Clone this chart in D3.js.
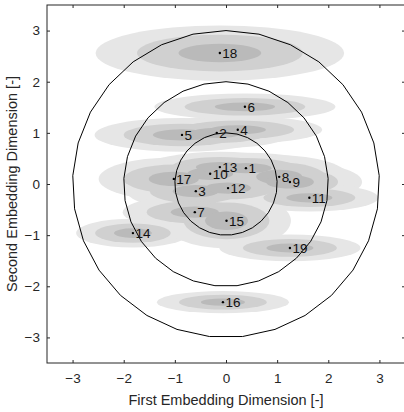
<!DOCTYPE html>
<html><head><meta charset="utf-8">
<script src="https://cdn.jsdelivr.net/npm/d3@7"></script>
<style>body{margin:0;background:#fff}svg{display:block}text{font-family:"Liberation Sans",Arial,sans-serif}</style>
</head><body>
<svg id="c" width="404" height="412"></svg>
<script>
const labels = ["1","2","3","4","5","6","7","8","9","10","11","12","13","14","15","16","17","18","19"];
const xs  = [0.39,-0.18,-0.59,0.23,-0.86,0.37,-0.61,1.04,1.25,-0.31,1.63,0.04,-0.12,-1.82,0.01,-0.06,-1.02,-0.12,1.25];
const ys  = [0.31,1.00,-0.14,1.06,0.96,1.51,-0.55,0.14,0.04,0.20,-0.27,-0.08,0.33,-0.96,-0.72,-2.31,0.10,2.56,-1.25];
const sx  = [0.50,0.50,0.45,0.55,0.57,0.59,0.47,0.45,0.47,0.45,0.45,0.45,0.47,0.37,0.42,0.43,0.49,0.81,0.46];
const sy  = [0.10,0.10,0.12,0.09,0.11,0.086,0.11,0.14,0.13,0.12,0.09,0.11,0.10,0.094,0.18,0.072,0.14,0.18,0.087];
const ticks = [-3,-2,-1,0,1,2,3];
const radii = [1,2,3];
const sigmaLevels = [3,2,1];
const shades = ["#e6e6e6","#d0d0d0","#bababa"];

const svg = d3.select("#c");
const x = d3.scaleLinear().domain([-3.5,3.5]).range([47,405]);
const y = d3.scaleLinear().domain([-3.5,3.5]).range([363,5]);
const pts = labels.map((l,i)=>({l, x:xs[i], y:ys[i], sx:sx[i], sy:sy[i]}));

sigmaLevels.forEach((k,li)=>{
  svg.append("g").selectAll("ellipse").data(pts).join("ellipse")
    .attr("cx",d=>x(d.x)).attr("cy",d=>y(d.y))
    .attr("rx",d=>x(k*d.sx)-x(0)).attr("ry",d=>y(0)-y(k*d.sy))
    .attr("fill",shades[li]);
});

const N = 29;
const line = d3.line().x(d=>x(d[0])).y(d=>y(d[1]));
radii.forEach(r=>{
  const ring = d3.range(N+1).map(j=>{const a=Math.PI/2+2*Math.PI*j/N; return [r*Math.cos(a), r*Math.sin(a)];});
  svg.append("path").attr("d",line(ring)).attr("fill","none").attr("stroke","#000").attr("stroke-width",1);
});

svg.append("g").selectAll("circle").data(pts).join("circle")
  .attr("cx",d=>x(d.x)).attr("cy",d=>y(d.y)).attr("r",1.2).attr("fill","#000");
svg.append("g").selectAll("text").data(pts).join("text")
  .attr("x",d=>x(d.x)+2.5).attr("y",d=>y(d.y)+5)
  .attr("font-size",13.5).attr("fill","#111").text(d=>d.l);

// axes
const ac = "#262626";
const gb = svg.append("g").attr("transform","translate(0,363)")
  .call(d3.axisBottom(x).tickValues(ticks).tickSize(-3).tickPadding(10).tickFormat(d3.format("d")));
const gt = svg.append("g").attr("transform","translate(0,5)")
  .call(d3.axisTop(x).tickValues(ticks).tickSize(-3).tickFormat(""));
const gl = svg.append("g").attr("transform","translate(47,0)")
  .call(d3.axisLeft(y).tickValues(ticks).tickSize(-3).tickPadding(7).tickFormat(d3.format("d")));
const gr = svg.append("g").attr("transform","translate(405,0)")
  .call(d3.axisRight(y).tickValues(ticks).tickSize(-3).tickFormat(""));
[gb,gt,gl,gr].forEach(g=>{
  g.select(".domain").attr("stroke",ac).attr("d", null);
  g.selectAll(".tick line").attr("stroke",ac);
  g.selectAll("text").attr("font-size",13.5).attr("fill",ac).attr("font-family","Liberation Sans, Arial, sans-serif");
});
svg.append("rect").attr("x",47).attr("y",5).attr("width",358).attr("height",358)
  .attr("fill","none").attr("stroke",ac).attr("stroke-width",1);

svg.append("text").attr("x",226).attr("y",405).attr("text-anchor","middle")
  .attr("font-size",14.5).attr("fill",ac).text("First Embedding Dimension [-]");
svg.append("text").attr("transform","translate(17,184) rotate(-90)").attr("text-anchor","middle")
  .attr("font-size",14.5).attr("fill",ac).text("Second Embedding Dimension [-]");
</script>
</body></html>
